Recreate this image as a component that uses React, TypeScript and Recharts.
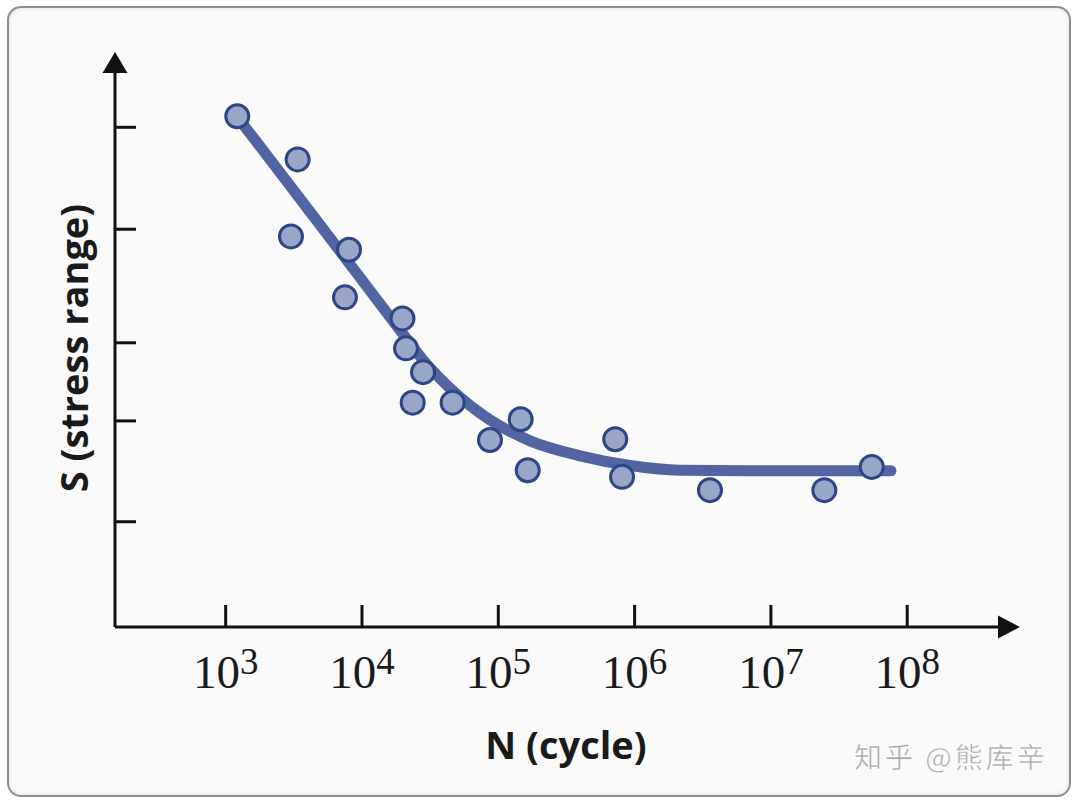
import {
  ComposedChart,
  Line,
  ReferenceDot,
  Scatter,
  XAxis,
  YAxis,
} from "recharts";

// test points: log10(N) and stress (arbitrary units, axis has no numbers)
const pointLogN = [
  3.085, 3.528, 3.479, 3.905, 3.875, 4.297, 4.323, 4.448, 4.372, 4.665, 4.939,
  5.164, 5.216, 5.858, 5.908, 6.553, 7.392, 7.74,
];
const pointStress = [
  92.2, 84.4, 70.5, 68.1, 59.5, 55.7, 50.3, 46.0, 40.5, 40.5, 33.75, 37.5, 28.3,
  33.9, 27.1, 24.7, 24.7, 28.9,
];

// fitted S-N curve
const curveLogN = [3.104, 3.692, 4.279, 4.448, 4.646, 4.939, 5.233, 5.6, 5.967, 6.334, 6.847, 7.881];
const curveStress = [91.5, 72.6, 53.6, 48.2, 43.1, 37.4, 33.6, 30.9, 29.15, 28.3, 28.2, 28.2];

const xTickExps = [3, 4, 5, 6, 7, 8];
const yTickVals = [19.0, 37.2, 51.3, 71.8, 90.2];
const xDomain: [number, number] = [2.188, 8.666];
const yDomain: [number, number] = [0, 100];

const points = pointLogN.map((x, i) => ({ x, y: pointStress[i] }));
const curve = curveLogN.map((x, i) => ({ x, y: curveStress[i] }));

const AXIS = "#111111";

function XTick({ x, y, payload }: any) {
  return (
    <g>
      <line x1={x} y1={y} x2={x} y2={y - 22} stroke={AXIS} strokeWidth={3} />
      <text
        x={x}
        y={y + 61}
        textAnchor="middle"
        fontFamily="'Liberation Serif', 'Times New Roman', serif"
        fontSize={47}
        fill="#1a1a1a"
      >
        10
        <tspan fontSize={37} dy={-14}>
          {payload.value}
        </tspan>
      </text>
    </g>
  );
}

function YTick({ x, y }: any) {
  return <line x1={x} y1={y} x2={x + 21} y2={y} stroke={AXIS} strokeWidth={3} />;
}

function Dot({ cx, cy }: any) {
  return <circle cx={cx} cy={cy} r={11.5} fill="#98a6c8" stroke="#2d4686" strokeWidth={3} />;
}

function ArrowRight({ cx, cy }: any) {
  return <polygon points={`${cx},${cy - 11.5} ${cx + 22},${cy} ${cx},${cy + 11.5}`} fill={AXIS} />;
}

function ArrowUp({ cx, cy }: any) {
  return <polygon points={`${cx - 12.5},${cy} ${cx},${cy - 21} ${cx + 12.5},${cy}`} fill={AXIS} />;
}

export default function App() {
  return (
    <div style={{ position: "absolute", left: 0, top: 0, width: 1080, height: 803, background: "#ffffff" }}>
      <div
        style={{
          position: "absolute",
          left: 7,
          top: 6,
          width: 1064,
          height: 791,
          boxSizing: "border-box",
          border: "2px solid #8e8e8e",
          borderRadius: 14,
          background: "#fafafa",
          boxShadow: "inset 0 0 4px rgba(0,0,0,0.12)",
        }}
      />
      <div style={{ position: "absolute", left: 0, top: 0 }}>
        <ComposedChart
          width={1080}
          height={803}
          margin={{ top: 73, right: 82, bottom: 116, left: 95 }}
        >
          <XAxis
            type="number"
            dataKey="x"
            domain={xDomain}
            ticks={xTickExps}
            interval={0}
            height={60}
            tickSize={0}
            tickMargin={0}
            tickLine={false}
            axisLine={{ stroke: AXIS, strokeWidth: 3 }}
            tick={<XTick />}
          />
          <YAxis
            type="number"
            dataKey="y"
            domain={yDomain}
            ticks={yTickVals}
            interval={0}
            width={20}
            tickSize={0}
            tickMargin={0}
            tickLine={false}
            axisLine={{ stroke: AXIS, strokeWidth: 3 }}
            tick={<YTick />}
          />
          <Line
            data={curve}
            dataKey="y"
            type="monotone"
            stroke="#5165a2"
            strokeWidth={11}
            strokeLinecap="round"
            dot={false}
            activeDot={false}
            isAnimationActive={false}
          />
          <Scatter data={points} dataKey="y" shape={<Dot />} isAnimationActive={false} />
          <ReferenceDot x={xDomain[1]} y={yDomain[0]} ifOverflow="visible" shape={<ArrowRight />} />
          <ReferenceDot x={xDomain[0]} y={yDomain[1]} ifOverflow="visible" shape={<ArrowUp />} />
          <text
            x={566}
            y={759}
            textAnchor="middle"
            fontFamily="'Open Sans', 'Noto Sans', sans-serif"
            fontWeight={700}
            fontSize={38}
            fill="#1a1a1a"
          >
            N (cycle)
          </text>
          <text
            x={88}
            y={348}
            transform="rotate(-90 88 348)"
            textAnchor="middle"
            fontFamily="'Open Sans', 'Noto Sans', sans-serif"
            fontWeight={700}
            fontSize={38}
            fill="#1a1a1a"
          >
            S (stress range)
          </text>
          <text
            x={854}
            y={768}
            fontFamily="'Noto Sans CJK SC', sans-serif"
            fontSize={28}
            letterSpacing={3}
            fill="#a6a6a6"
            stroke="#ffffff"
            strokeWidth={0.5}
          >
            知乎 @熊库辛
          </text>
        </ComposedChart>
      </div>
    </div>
  );
}
